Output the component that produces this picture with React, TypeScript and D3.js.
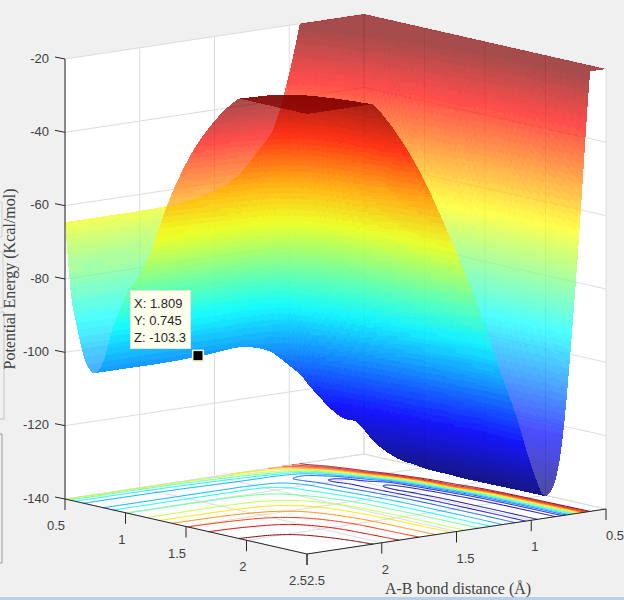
import { useEffect, useRef } from 'react';
import * as d3 from 'd3';

const bondAB = [0.5, 0.6, 0.7, 0.8, 0.9, 1, 1.1, 1.2, 1.35, 1.5, 1.75, 2, 2.25, 2.5];
const bondBC = [0.5, 0.55, 0.6, 0.65, 0.7, 0.75, 0.8, 0.9, 1, 1.1, 1.2, 1.35, 1.5, 1.75, 2, 2.25, 2.5];

// energy per bondBC row, one value per bondAB (values above the axis top get cut off when drawn)
const energyRows = [
  [50, 37, 24, 8, -14, -33, -47, -52.5, -59, -62, -64, -64.5, -64.5, -64.5],
  [48, 35, 22, 5, -17, -41, -57, -64, -72, -76, -81, -83.5, -84, -84],
  [46, 33, 20, 2, -24, -50, -67, -75, -83, -87, -90.5, -92, -92.5, -92.5],
  [44, 31, 18, -2, -32, -62, -80, -88, -93, -95.5, -98, -99, -99.5, -99.5],
  [42, 29, 15, -6, -40, -74, -93, -100, -101, -101, -102, -103, -103, -103],
  [41, 27, 13, -11, -48, -84, -104, -107.5, -104.5, -102.6, -103.3, -103.8, -103.8, -103.8],
  [40, 25, 10, -16, -56, -92, -111, -110.5, -104, -102, -101.5, -101.5, -101.5, -101.5],
  [38, 22, 5, -26, -72, -108, -118, -111, -97, -91, -90, -90, -90, -90],
  [36, 18, -2, -42, -90, -119, -121, -108, -93, -85, -81.5, -81, -81, -81],
  [34, 14, -10, -58, -105, -123, -119, -107, -92, -82, -76, -75, -75, -75],
  [32, 10, -20, -74, -119, -128, -118, -106, -90, -79, -70, -68, -68, -68],
  [30, 6, -30, -90, -127, -130.5, -116, -104, -87, -74, -60, -55, -53.5, -53],
  [28, -2, -36, -100, -131, -129, -114, -102, -84, -70, -53, -45, -42, -41],
  [26, -5, -62, -114, -133.5, -126.5, -112, -100, -82, -66.5, -46, -33, -28.5, -27],
  [24, -10, -70, -119, -134, -125.5, -111.5, -99.5, -81, -65, -42, -27, -20, -18],
  [22, -13, -74, -121, -134, -125, -111, -99, -80.5, -64.5, -41, -24.5, -16, -12],
  [20, -17, -76, -122, -134, -125, -111, -99, -80, -64, -40, -23, -13, -8],
];

const bondTicks = [0.5, 1, 1.5, 2, 2.5];
const energyTicks = [-20, -40, -60, -80, -100, -120, -140];
const contourLevels = d3.range(-130, -10, 10);
const tip = { x: 1.809, y: 0.745, z: -103.3 };

const width = 624;
const height = 600;
const colorMin = -134;
const colorMax = -20;

// orthographic view: where the axis box corners land on screen
const back = [364, 454];
const rightCorner = [606, 509];
const leftCorner = [65, 499];

const abToX = d3.scaleLinear().domain([0.5, 2.5]).range([0, leftCorner[0] - back[0]]);
const abToY = d3.scaleLinear().domain([0.5, 2.5]).range([0, leftCorner[1] - back[1]]);
const bcToX = d3.scaleLinear().domain([0.5, 2.5]).range([0, rightCorner[0] - back[0]]);
const bcToY = d3.scaleLinear().domain([0.5, 2.5]).range([0, rightCorner[1] - back[1]]);
const zToLift = d3.scaleLinear().domain([-140, -20]).range([0, 440]);

const project = (ab: number, bc: number, z: number): [number, number] => [
  back[0] + abToX(ab) + bcToX(bc),
  back[1] + abToY(ab) + bcToY(bc) - zToLift(z),
];

const jet = (t: number) => {
  const c = (v: number) => Math.round(255 * Math.max(0, Math.min(1, 1.5 - Math.abs(4 * t - v))));
  return `rgb(${c(3)},${c(2)},${c(1)})`;
};
const bandOf = (z: number) => {
  const t = (Math.min(z, colorMax) - colorMin) / (colorMax - colorMin);
  return Math.max(0, Math.min(63, Math.floor(t * 64)));
};

// smooth curve through the read values, used only for shading the surface
function smooth(xs: number[], ys: number[], qs: number[]) {
  const n = xs.length;
  const d = d3.range(n - 1).map(i => (ys[i + 1] - ys[i]) / (xs[i + 1] - xs[i]));
  const m = xs.map((_, i) => {
    if (i === 0) return d[0];
    if (i === n - 1) return d[n - 2];
    const h0 = xs[i] - xs[i - 1];
    const h1 = xs[i + 1] - xs[i];
    return (h1 * d[i - 1] + h0 * d[i]) / (h0 + h1);
  });
  const bisect = d3.bisector((v: number) => v).right;
  return qs.map(q => {
    const i = Math.max(0, Math.min(n - 2, bisect(xs, q) - 1));
    const h = xs[i + 1] - xs[i];
    const t = (q - xs[i]) / h;
    return (
      (2 * t ** 3 - 3 * t ** 2 + 1) * ys[i] +
      (t ** 3 - 2 * t ** 2 + t) * h * m[i] +
      (-2 * t ** 3 + 3 * t ** 2) * ys[i + 1] +
      (t ** 3 - t ** 2) * h * m[i + 1]
    );
  });
}

export default function App() {
  const svgRef = useRef<SVGSVGElement>(null);

  useEffect(() => {
    if (!svgRef.current) return;
    const svg = d3.select(svgRef.current);
    svg.selectAll('*').remove();

    svg.append('rect').attr('width', width).attr('height', height).attr('fill', '#f0f0f0');
    svg.append('rect').attr('y', 597).attr('width', width).attr('height', 3).attr('fill', '#b8d0ec');

    // bits of the neighbouring ui panels at the left edge
    [[202, 237, 2, '#d0d0d0'], [252, 308, 3, '#d0d0d0'], [312, 419, 4, '#c4c4c4'], [434, 563, 2, '#9a9a9a']].forEach(([y0, y1, x, c]) => {
      svg.append('path')
        .attr('d', `M0,${y0}H${x}V${y1}H0`)
        .attr('fill', 'none')
        .attr('stroke', c as string);
    });

    // back walls and floor
    const poly = (pts: [number, number][]) => d3.line()(pts) + 'Z';
    const walls = [
      [project(2.5, 0.5, -140), project(2.5, 0.5, -20), project(0.5, 0.5, -20), project(0.5, 0.5, -140)],
      [project(0.5, 0.5, -140), project(0.5, 0.5, -20), project(0.5, 2.5, -20), project(0.5, 2.5, -140)],
      [project(0.5, 0.5, -140), project(2.5, 0.5, -140), project(2.5, 2.5, -140), project(0.5, 2.5, -140)],
    ];
    walls.forEach(w => svg.append('path').attr('d', poly(w as [number, number][])).attr('fill', 'white'));

    // grid
    const grid = svg.append('g').attr('fill', 'none').attr('stroke', '#dcdcdc').attr('stroke-width', 1);
    const seg = (a: [number, number], b: [number, number]) =>
      grid.append('path').attr('d', d3.line()([a, b]));
    energyTicks.forEach(z => {
      seg(project(2.5, 0.5, z), project(0.5, 0.5, z));
      seg(project(0.5, 0.5, z), project(0.5, 2.5, z));
    });
    bondTicks.forEach(v => {
      seg(project(v, 0.5, -140), project(v, 0.5, -20));
      seg(project(0.5, v, -140), project(0.5, v, -20));
      seg(project(v, 0.5, -140), project(v, 2.5, -140));
      seg(project(0.5, v, -140), project(2.5, v, -140));
    });

    // fine sampling, tighter where the walls are steep
    const denseAB = [
      ...d3.range(0.5, 0.6, 0.02),
      ...d3.range(0.6, 0.95, 0.0015),
      ...d3.range(0.95, 1.2, 0.004),
      ...d3.range(1.2, 2.5, 0.01),
      2.5,
    ];
    const denseBC = [...d3.range(0.5, 0.9, 0.004), ...d3.range(0.9, 2.5, 0.008), 2.5];
    const rowsAlongAB = energyRows.map(row => smooth(bondAB, row, denseAB));
    const columns = denseAB.map((_, i) => smooth(bondBC, rowsAlongAB.map(r => r[i]), denseBC));
    const nx = denseAB.length;
    const ny = denseBC.length;
    const zAt = (i: number, j: number) => columns[i][j];

    // floor contours
    const values = new Array(nx * ny);
    for (let j = 0; j < ny; j++) for (let i = 0; i < nx; i++) values[i + j * nx] = zAt(i, j);
    const idxToAB = d3.scaleLinear().domain(d3.range(nx)).range(denseAB).clamp(true);
    const idxToBC = d3.scaleLinear().domain(d3.range(ny)).range(denseBC).clamp(true);
    const contourGen = d3.contours().size([nx, ny]).thresholds(contourLevels);
    const lineGen = d3.line();
    const contourGroup = svg.append('g').attr('fill', 'none').attr('stroke-width', 1);
    contourGen(values).forEach(c => {
      let d = '';
      c.coordinates.forEach(polygon => polygon.forEach(ring => {
        // leave out the parts of the ring that only follow the grid border
        let run: [number, number][] = [];
        const flush = () => {
          if (run.length > 1) d += lineGen(run);
          run = [];
        };
        const toFloor = (p: number[]) => project(idxToAB(p[0] - 0.5), idxToBC(p[1] - 0.5), -140);
        ring.forEach((p, k) => {
          if (k === 0) return;
          const q = ring[k - 1];
          const onBorder = (p[0] === q[0] && (p[0] === 0 || p[0] === nx)) || (p[1] === q[1] && (p[1] === 0 || p[1] === ny));
          if (onBorder) {
            flush();
            return;
          }
          if (!run.length) run.push(toFloor(q));
          run.push(toFloor(p));
        });
        flush();
      }));
      const t = (c.value - colorMin) / (colorMax - colorMin);
      contourGroup.append('path').attr('d', d).attr('stroke', jet(Math.min(1, t)));
    });

    // surface, painted from the far corner to the near one
    const surface = svg.append('g').attr('fill-opacity', 0.7).attr('shape-rendering', 'crispEdges');
    const pt = (i: number, j: number) => {
      const p = project(denseAB[i], denseBC[j], Math.min(zAt(i, j), colorMax));
      return `${p[0].toFixed(2)},${p[1].toFixed(2)}`;
    };
    for (let j = 0; j < ny - 1; j++) {
      let start = 0;
      let band = -1;
      const emit = (end: number) => {
        if (band < 0) return;
        const top: string[] = [];
        const bottom: string[] = [];
        for (let i = start; i <= end; i++) {
          top.push(pt(i, j));
          bottom.push(pt(i, j + 1));
        }
        surface.append('path')
          .attr('d', 'M' + top.join('L') + 'L' + bottom.reverse().join('L') + 'Z')
          .attr('fill', jet(band / 63));
      };
      for (let i = 0; i < nx - 1; i++) {
        const mean = (zAt(i, j) + zAt(i + 1, j) + zAt(i, j + 1) + zAt(i + 1, j + 1)) / 4;
        const b = bandOf(mean);
        if (b !== band) {
          emit(i);
          start = i;
          band = b;
        }
      }
      emit(nx - 1);
    }

    // axes
    const axisColor = '#262626';
    const axes = svg.append('g').attr('fill', 'none').attr('stroke', axisColor).attr('stroke-width', 1);
    const axisLine = (a: [number, number], b: [number, number]) => axes.append('path').attr('d', d3.line()([a, b]));
    axisLine(project(2.5, 0.5, -140), project(2.5, 0.5, -20));
    axisLine(project(2.5, 0.5, -140), project(2.5, 2.5, -140));
    axisLine(project(2.5, 2.5, -140), project(0.5, 2.5, -140));

    const labels = svg.append('g')
      .attr('fill', '#404040')
      .attr('font-family', '"Liberation Sans", Arial, sans-serif')
      .attr('font-size', 13);

    energyTicks.forEach(z => {
      const p = project(2.5, 0.5, z);
      axisLine(p, [p[0] - 10, p[1] - 2]);
      labels.append('text').attr('x', p[0] - 16).attr('y', p[1] + 3.5).attr('text-anchor', 'end').text(String(z));
    });
    bondTicks.forEach(v => {
      const a = project(2.5, v, -140);
      axisLine(a, [a[0], a[1] + 11]);
      labels.append('text').attr('x', a[0]).attr('y', a[1] + 31).attr('text-anchor', 'end').text(String(v));
      const b = project(v, 2.5, -140);
      axisLine(b, [b[0], b[1] + 11]);
      labels.append('text').attr('x', b[0]).attr('y', b[1] + 31).attr('text-anchor', 'start').text(String(v));
    });

    // axis titles
    const titleFont = '"Liberation Serif", "Times New Roman", serif';
    svg.append('text')
      .attr('x', 458).attr('y', 594)
      .attr('text-anchor', 'middle')
      .attr('font-family', titleFont).attr('font-size', 16).attr('fill', '#404040')
      .text('A-B bond distance (Å)');
    svg.append('text')
      .attr('transform', 'translate(15,279) rotate(-90)')
      .attr('text-anchor', 'middle')
      .attr('font-family', titleFont).attr('font-size', 16).attr('fill', '#404040')
      .text('Potential Energy (Kcal/mol)');

    // data tip
    const [mx, my] = project(tip.x, tip.y, tip.z);
    svg.append('rect').attr('x', mx - 6).attr('y', my - 6).attr('width', 12).attr('height', 12).attr('fill', '#f5f0c8');
    svg.append('rect').attr('x', mx - 4.5).attr('y', my - 4.5).attr('width', 9).attr('height', 9).attr('fill', 'black');
    svg.append('rect')
      .attr('x', 130.5).attr('y', 290.5).attr('width', 60).attr('height', 58)
      .attr('fill', '#ffffee').attr('stroke', '#e6e6c8');
    [`X: ${tip.x}`, `Y: ${tip.y}`, `Z: ${tip.z}`].forEach((s, i) => {
      svg.append('text')
        .attr('x', 134).attr('y', 308 + i * 17)
        .attr('font-family', '"Liberation Sans", Arial, sans-serif')
        .attr('font-size', 13).attr('fill', '#262626')
        .text(s);
    });
  }, []);

  return (
    <svg ref={svgRef} width={width} height={height} style={{ position: 'fixed', left: 0, top: 0, display: 'block' }} />
  );
}
